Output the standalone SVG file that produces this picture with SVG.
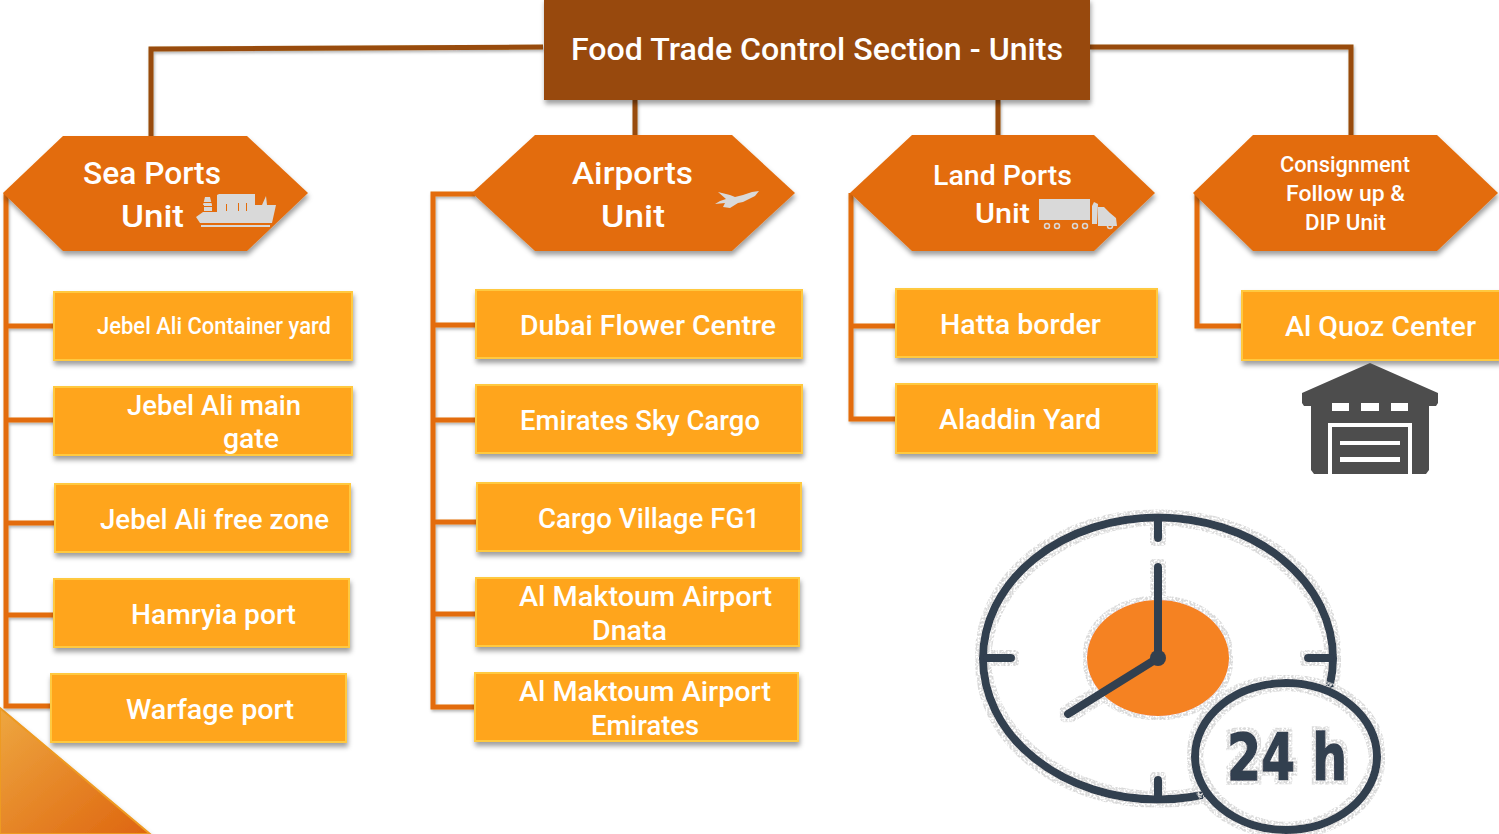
<svg xmlns="http://www.w3.org/2000/svg" width="1499" height="834" viewBox="0 0 1499 834">
<style>
text{font-family:Roboto,"Open Sans","Liberation Sans",sans-serif;font-weight:500;fill:#fff}
.box{fill:#ffa51d;stroke:#ffc93f;stroke-width:2;filter:url(#sh)}
.hex{fill:#e36c0a;filter:url(#sh)}
.dk{fill:none;stroke:#984c08;stroke-width:5}
.or{fill:none;stroke:#e36c0a;stroke-width:5}
.ck{fill:none;stroke:#333f50;stroke-width:8;stroke-linecap:round}
.ico{fill:#d9d9d9}
.wh{fill:none;stroke:#d9d9d9;stroke-width:1.500}
.t30{font-size:28px}
</style>
<defs>
<filter id="sh" x="-10%" y="-15%" width="120%" height="135%"><feDropShadow dx="1" dy="4" stdDeviation="2.500" flood-color="#000" flood-opacity=".38"/></filter>
<filter id="ln" x="-5%" y="-5%" width="110%" height="110%"><feDropShadow dx="1" dy="2" stdDeviation="1.500" flood-color="#000" flood-opacity=".3"/></filter>
<filter id="halo" x="-5%" y="-5%" width="110%" height="110%">
<feMorphology in="SourceAlpha" operator="dilate" radius="4" result="d"/>
<feTurbulence type="fractalNoise" baseFrequency=".5" numOctaves="2" seed="4" result="n"/>
<feColorMatrix in="n" type="matrix" values="0 0 0 0 .7 0 0 0 0 .7 0 0 0 0 .7 0 0 0 7 -2.900" result="g"/>
<feComposite in="g" in2="d" operator="in" result="sp"/>
<feMerge><feMergeNode in="sp"/><feMergeNode in="SourceGraphic"/></feMerge>
</filter>
<linearGradient id="tri" x1="0" y1="0" x2="1" y2="1"><stop offset="0" stop-color="#eea740"/><stop offset="1" stop-color="#de650f"/></linearGradient>
</defs>
<path id="corner" d="M0 708L150 834H0Z" fill="url(#tri)" stroke="#ee9a20" stroke-width="2" filter="url(#sh)"/>
<g id="connectors" filter="url(#ln)">
<path class="dk" d="M543 47L151 49V136M1090 47H1351V136M635 100V136M998 100V136"/>
<path class="or" d="M6 193V706H50M6 326H54M6 420H54M8 523H55M8 615H54"/>
<path class="or" d="M475 194H433V707H475M433 325H476M433 420H476M433 522H477M433 614H476"/>
<path class="or" d="M851 193V419H896M851 326H896"/>
<path class="or" d="M1197 193V326H1242"/>
</g>
<g id="root"><rect x="544" y="-2" width="546" height="102" fill="#984807" filter="url(#sh)"/>
<text x="571" y="60" font-size="31" textLength="492" lengthAdjust="spacingAndGlyphs">Food Trade Control Section - Units</text></g>
<g id="sea-ports"><path class="hex" d="M3 193L63 136H247L308 193L247 251H63Z"/>
<text x="83" y="184" font-size="31" textLength="138" lengthAdjust="spacingAndGlyphs">Sea Ports</text>
<text x="121" y="227" font-size="31" textLength="63" lengthAdjust="spacingAndGlyphs">Unit</text>
<path class="ico" d="M196 217L203 212H217V195L219 194H255V205H262L266 196L267 205H276L272 223H200ZM201 225H270V227H201Z"/>
<path class="ico" d="M204 211V205H203L205 197H210L212 205V211Z"/>
<path fill="#e36c0a" d="M203 202h9v1h-9zM203 206h9v1h-9zM226 204h1v7h-1zM238 203h1v8h-1zM246 203h1v8h-1z"/></g>
<g id="airports"><path class="hex" d="M472 193L535 135H732L795 193L732 251H535Z"/>
<text x="572" y="184" font-size="31" textLength="121" lengthAdjust="spacingAndGlyphs">Airports</text>
<text x="601" y="227" font-size="31" textLength="64" lengthAdjust="spacingAndGlyphs">Unit</text>
<path class="ico" d="M718 192L730 195L735 197L743 195L752 192L759 191L755 196L743 202L738 203L730 208L723 207L725 203L715 204L720 201L726 199Z"/></g>
<g id="land-ports"><path class="hex" d="M850 193L912 135H1094L1155 193L1094 251H912Z"/>
<text x="933" y="185" font-size="28" textLength="139" lengthAdjust="spacingAndGlyphs">Land Ports</text>
<text x="975" y="223" font-size="28" textLength="55" lengthAdjust="spacingAndGlyphs">Unit</text>
<path class="ico" d="M1039 199H1090V220H1039ZM1092 224V206L1094 202L1098 204L1097 224ZM1098 207H1104L1110 213L1116 218L1117 226H1098Z"/>
<g class="wh"><circle cx="1047" cy="226" r="2.500"/><circle cx="1057" cy="226" r="2.500"/><circle cx="1075" cy="226" r="2.500"/><circle cx="1085" cy="226" r="2.500"/><circle cx="1110" cy="226" r="2.500"/></g></g>
<g id="consignment"><path class="hex" d="M1193 193L1253 135H1437L1498 193L1437 251H1253Z"/>
<text x="1280" y="172" font-size="22" textLength="130" lengthAdjust="spacingAndGlyphs">Consignment</text>
<text x="1286" y="201" font-size="22" textLength="119" lengthAdjust="spacingAndGlyphs">Follow up &amp;</text>
<text x="1305" y="230" font-size="22" textLength="81" lengthAdjust="spacingAndGlyphs">DIP Unit</text></g>
<g id="jebel-ali-container-yard"><rect class="box" x="54" y="292" width="298" height="68"/><text x="97" y="334" font-size="23" textLength="234" lengthAdjust="spacingAndGlyphs">Jebel Ali Container yard</text></g>
<g id="jebel-ali-main-gate"><rect class="box" x="54" y="387" width="298" height="68"/><text class="t30"><tspan x="127" y="415" textLength="174" lengthAdjust="spacingAndGlyphs">Jebel Ali main</tspan><tspan x="223" y="448" textLength="56" lengthAdjust="spacingAndGlyphs">gate</tspan></text></g>
<g id="jebel-ali-free-zone"><rect class="box" x="55" y="484" width="295" height="68"/><text class="t30" x="100" y="529" textLength="229" lengthAdjust="spacingAndGlyphs">Jebel Ali free zone</text></g>
<g id="hamryia-port"><rect class="box" x="54" y="579" width="295" height="68"/><text class="t30" x="131" y="624" textLength="165" lengthAdjust="spacingAndGlyphs">Hamryia port</text></g>
<g id="warfage-port"><rect class="box" x="51" y="674" width="295" height="68"/><text class="t30" x="126" y="719" textLength="168" lengthAdjust="spacingAndGlyphs">Warfage port</text></g>
<g id="dubai-flower-centre"><rect class="box" x="476" y="290" width="326" height="68"/><text class="t30" x="520" y="335" textLength="256" lengthAdjust="spacingAndGlyphs">Dubai Flower Centre</text></g>
<g id="emirates-sky-cargo"><rect class="box" x="476" y="385" width="326" height="68"/><text class="t30" x="520" y="430" textLength="240" lengthAdjust="spacingAndGlyphs">Emirates Sky Cargo</text></g>
<g id="cargo-village"><rect class="box" x="477" y="483" width="324" height="68"/><text class="t30" x="538" y="528" textLength="222" lengthAdjust="spacingAndGlyphs">Cargo Village FG1</text></g>
<g id="maktoum-dnata"><rect class="box" x="476" y="578" width="323" height="68"/><text class="t30"><tspan x="519" y="606" textLength="253" lengthAdjust="spacingAndGlyphs">Al Maktoum Airport</tspan><tspan x="592" y="640" textLength="75" lengthAdjust="spacingAndGlyphs">Dnata</tspan></text></g>
<g id="maktoum-emirates"><rect class="box" x="475" y="673" width="323" height="68"/><text class="t30"><tspan x="519" y="701" textLength="252" lengthAdjust="spacingAndGlyphs">Al Maktoum Airport</tspan><tspan x="591" y="735" textLength="108" lengthAdjust="spacingAndGlyphs">Emirates</tspan></text></g>
<g id="hatta-border"><rect class="box" x="896" y="289" width="261" height="68"/><text class="t30" x="940" y="334" textLength="161" lengthAdjust="spacingAndGlyphs">Hatta border</text></g>
<g id="aladdin-yard"><rect class="box" x="896" y="384" width="261" height="69"/><text class="t30" x="939" y="429" textLength="162" lengthAdjust="spacingAndGlyphs">Aladdin Yard</text></g>
<g id="al-quoz-center"><rect class="box" x="1242" y="291" width="259" height="69"/><text class="t30" x="1285" y="336" textLength="191" lengthAdjust="spacingAndGlyphs">Al Quoz Center</text></g>
<g id="warehouse"><path fill="#4d4d4d" d="M1370 363L1438 393V403L1436 406H1429V470L1426 474H1314L1311 470V406H1304L1302 403V393Z"/>
<path fill="#fff" d="M1332 403h17v8h-17zM1361 403h18v8h-18zM1391 403h17v8h-17z"/>
<path fill="none" stroke="#fff" stroke-width="4" d="M1330 474V425H1410V474"/>
<path fill="#fff" d="M1340 441h60v4h-60zM1340 457h60v5h-60z"/></g>
<g id="clock"><g filter="url(#halo)"><ellipse cx="1158" cy="658" rx="71" ry="58" fill="#f58220"/>
<ellipse class="ck" cx="1158" cy="658.500" rx="175" ry="141"/>
<path class="ck" d="M1158 520V538M1158 780V798M987 658H1011M1308 658H1330M1158 567V658L1068 714"/>
<circle cx="1158" cy="658" r="8" fill="#333f50"/></g>
<ellipse cx="1286" cy="756.500" rx="91" ry="73.500" fill="#fff"/>
<g filter="url(#halo)"><ellipse cx="1286" cy="756.500" rx="91" ry="73.500" fill="none" stroke="#333f50" stroke-width="8"/>
<text x="1227" y="780" font-size="64" textLength="120" lengthAdjust="spacingAndGlyphs" stroke="#333f50" stroke-width="1.500" style="fill:#333f50;font-family:'DejaVu Sans','Liberation Sans',sans-serif;font-weight:700">24 h</text></g></g>
</svg>
